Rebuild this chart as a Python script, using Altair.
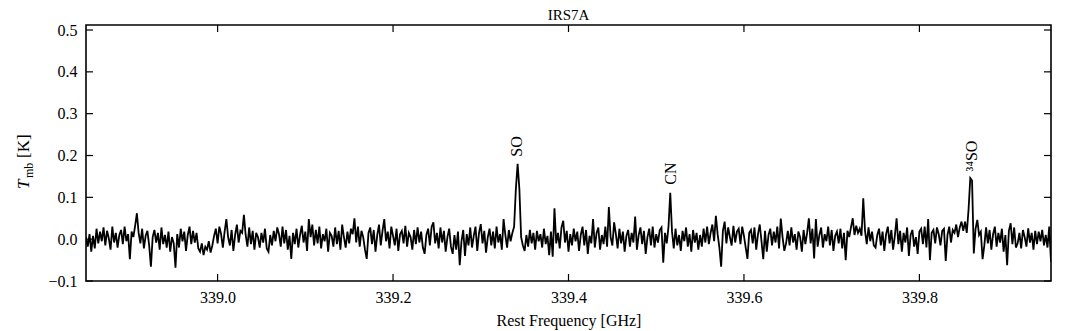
import altair as alt
import pandas as pd

# ---------------- data ----------------
freq_start_ghz = 338.85
channel_width_ghz = 0.002

# main-beam temperature per channel, in mK (hand-read, 0.1 GHz per block)
tmb_mk_seg1 = [5, -18, 12, -30, 8, -22, 25, -10, 18, -5,
               28, -15, 20, 2, -25, 30, -8, 15, -20, 10,
               22, -12, 30, -5, 12, -48, 18, 5, 32, 62,
               15, -10, 25, -22, 8, 20, -15, -66, 5, 22,
               -8, 15, -25, 28, -12, 10, -20, 18, -30, 5]
tmb_mk_seg2 = [-10, -68, 12, -20, 25, -5, 18, -28, 10, 30,
               -12, 20, -8, 15, -22, -30, -10, -38, -18, -25,
               -5, -32, -15, 8, 25, -10, 30, 12, -20, 18,
               48, 5, -15, 22, -28, 10, 35, -8, 20, 15,
               58, 10, -18, 28, -12, 20, -25, 15, 5, -20]
tmb_mk_seg3 = [15, -8, 25, -22, -30, 10, -15, 20, -5, 28,
               12, -18, 30, -10, 22, -25, 8, -47, 15, -12,
               25, -20, 10, 32, -8, 18, -28, 48, 5, 35,
               -15, 22, -10, 30, -22, 12, -5, 25, -30, 15,
               8, -18, 28, -12, 20, -25, 35, 5, -20, 18]
tmb_mk_seg4 = [-10, 25, 12, 50, -8, 30, -18, 20, 5, -25,
               -47, 15, 28, -12, 22, -30, 10, 35, -15, 20,
               48, -5, 18, -22, 30, 8, -15, 25, -28, 12,
               20, -10, 32, -18, 15, 5, -25, 22, -12, 28,
               -8, 18, -20, -35, 10, 25, -15, 30, 40, -10]
tmb_mk_seg5 = [15, -22, 28, -8, 20, -30, 5, 25, -18, -35,
               10, -25, 18, -62, -5, 22, -40, 12, -15, 28,
               -20, 8, 30, -28, 15, 36, -10, 20, -32, 5,
               25, -15, 18, -22, 30, -8, 12, -25, 48, 10,
               -20, 22, -5, 15, 30, 120, 180, 120, 5, -15]
tmb_mk_seg6 = [-28, 10, -18, 22, -10, 15, -25, 20, -5, 12,
               -20, 25, -12, 8, -38, 18, -42, 74, -10, 15,
               -22, 28, 44, -8, 20, -30, 12, -15, 25, -5,
               18, -28, 10, 30, -15, 22, -35, 8, -10, 48,
               -20, 15, 28, -25, 10, -12, 30, -18, 77, 5]
tmb_mk_seg7 = [-15, 40, 12, -22, 25, -10, 18, -30, 8, 22,
               -18, 15, -8, 54, -25, 10, 28, -12, 20, -35,
               5, 25, -15, 30, -20, 12, -8, 22, 28, -56,
               15, -10, 30, 111, 18, -22, 25, -15, 10, -28,
               20, -5, 28, -18, 12, -30, 22, -8, 15, -25]
tmb_mk_seg8 = [10, -18, 25, -8, 30, -12, 15, 35, -5, 56,
               12, -20, -66, 20, 42, -10, 28, 5, -15, 32,
               -8, 18, 25, -12, 30, 8, -20, -47, 15, 22,
               -10, 28, -25, 12, 35, -5, -48, 20, -30, 10,
               25, -15, 18, -8, 30, -22, 49, 5, -28, -10]
tmb_mk_seg9 = [20, -15, 28, -8, 12, -25, 18, 5, -30, 22,
               -12, 15, 50, -10, 25, -46, 48, -18, 10, 28,
               -20, 12, -5, 30, -15, 22, -28, 8, 18, -10,
               25, -22, 15, -50, 20, 5, 28, 50, 10, 32,
               15, 25, 8, 98, 20, -12, 28, -5, 18, -15]
tmb_mk_seg10 = [-20, 10, 25, -15, 18, -28, 12, 30, -10, 22,
                -25, 8, 50, -12, 20, -30, 15, -8, 28, -40,
                10, 22, -18, 5, -35, 18, 25, -12, 30, -20,
                48, -50, 15, 22, -10, 28, 12, -15, 20, 25,
                -52, 10, 30, -8, 22, 15, 35, 5, 28, 42]
tmb_mk_seg11 = [20, 42, 15, 70, 146, 140, -34, 25, 46, 10,
                18, -48, -15, 28, -10, 22, -25, 12, 30, -18,
                15, -8, 25, -30, 10, -62, 20, 38, -12, 28,
                -20, -10, 15, -22, 22, 5, -18, 26, -8, 15,
                -25, 20, -12, 18, -5, 22, -15, 10, -20, 30, -54]

line_names = ["SO", "CN", "³⁴SO"]
line_freqs = [339.3416, 339.5165, 339.8595]
line_label_base = [0.197, 0.130, 0.162]

chart_title = "IRS7A"
x_title = "Rest Frequency [GHz]"
x_ticks = [339.0, 339.2, 339.4, 339.6, 339.8]
y_ticks = [-0.1, 0.0, 0.1, 0.2, 0.3, 0.4, 0.5]
x_domain = [338.85, 339.95]
y_domain = [-0.1, 0.512]

# ---------------- build table ----------------
tmb_mk = (tmb_mk_seg1 + tmb_mk_seg2 + tmb_mk_seg3 + tmb_mk_seg4 + tmb_mk_seg5 +
          tmb_mk_seg6 + tmb_mk_seg7 + tmb_mk_seg8 + tmb_mk_seg9 + tmb_mk_seg10 +
          tmb_mk_seg11)
spec = pd.DataFrame({
    "freq": [round(freq_start_ghz + i * channel_width_ghz, 4) for i in range(len(tmb_mk))],
    "tmb": [v / 1000.0 for v in tmb_mk],
})

W, H = 965, 256
FONT = "Liberation Serif"
FS = 16

xs = alt.Scale(domain=x_domain, nice=False, zero=False)
ys = alt.Scale(domain=y_domain, nice=False, zero=False)

x_axis = alt.Axis(values=x_ticks, format=".1f", title=x_title,
                  grid=False, domain=False, ticks=False, labelPadding=8,
                  labelFont=FONT, labelFontSize=FS, labelColor="black",
                  titleFont=FONT, titleFontSize=FS, titleFontWeight="normal",
                  titleColor="black", titlePadding=7, labelFlush=False)
y_axis = alt.Axis(values=y_ticks, format=".1f", title="", grid=False,
                  domain=False, ticks=False, labelPadding=9,
                  labelFont=FONT, labelFontSize=FS, labelColor="black",
                  labelFlush=False)


def X(field):
    return alt.X(field, scale=xs, axis=x_axis, title=x_title)


def Y(field):
    return alt.Y(field, scale=ys, axis=y_axis, title="")


line = alt.Chart(spec).mark_line(color="black", strokeWidth=1.8, clip=True).encode(
    x=X("freq:Q"), y=Y("tmb:Q"))

# inward tick marks on all four sides
tick_len_px = 7
tick_len_y = tick_len_px / H * (y_domain[1] - y_domain[0])
tick_len_x = tick_len_px / W * (x_domain[1] - x_domain[0])

xt = pd.DataFrame({"x": x_ticks})
xt_df = pd.concat([xt.assign(y=y_domain[0], y2=y_domain[0] + tick_len_y),
                   xt.assign(y=y_domain[1] - tick_len_y, y2=y_domain[1])],
                  ignore_index=True)
yt = pd.DataFrame({"y": y_ticks})
yt_df = pd.concat([yt.assign(x=x_domain[0], x2=x_domain[0] + tick_len_x),
                   yt.assign(x=x_domain[1] - tick_len_x, x2=x_domain[1])],
                  ignore_index=True)

xticks_layer = alt.Chart(xt_df).mark_rule(color="black", strokeWidth=1.2).encode(
    x=X("x:Q"), y=Y("y:Q"), y2="y2:Q")
yticks_layer = alt.Chart(yt_df).mark_rule(color="black", strokeWidth=1.2).encode(
    x=X("x:Q"), x2="x2:Q", y=Y("y:Q"))

labels_df = pd.DataFrame({"name": line_names, "freq": line_freqs, "base": line_label_base})
labels = alt.Chart(labels_df).mark_text(angle=270, align="left", baseline="middle",
                                        font=FONT, fontSize=FS, color="black").encode(
    x=X("freq:Q"), y=Y("base:Q"), text="name:N")

# chart title as a text mark above the frame
title_mark = alt.Chart(pd.DataFrame({"t": [chart_title]})).mark_text(
    align="center", baseline="alphabetic", font=FONT, fontSize=15,
    color="black").encode(x=alt.value(W / 2), y=alt.value(-5), text="t:N")

# y-axis title T_mb [K] built from pieces
ytitle_T = alt.Chart(pd.DataFrame({"t": ["T"]})).mark_text(
    angle=270, align="left", baseline="alphabetic", font=FONT, fontSize=FS + 1,
    fontStyle="italic", color="black").encode(
    x=alt.value(-57), y=alt.value(164), text="t:N")
ytitle_sub = alt.Chart(pd.DataFrame({"t": ["mb"]})).mark_text(
    angle=270, align="left", baseline="alphabetic", font=FONT, fontSize=12,
    color="black").encode(
    x=alt.value(-53), y=alt.value(153), text="t:N")
ytitle_K = alt.Chart(pd.DataFrame({"t": ["[K]"]})).mark_text(
    angle=270, align="left", baseline="alphabetic", font=FONT, fontSize=FS + 1,
    color="black").encode(
    x=alt.value(-57), y=alt.value(133), text="t:N")

chart = alt.layer(line, xticks_layer, yticks_layer, labels, title_mark,
                  ytitle_T, ytitle_sub, ytitle_K).properties(
    width=W, height=H,
    autosize=alt.AutoSizeParams(type="none"),
    padding={"left": 78, "top": 17, "right": 12, "bottom": 56},
).configure_view(stroke="black", strokeWidth=1.6)

chart.save("out.html", embed_options={"renderer": "svg", "actions": False})
